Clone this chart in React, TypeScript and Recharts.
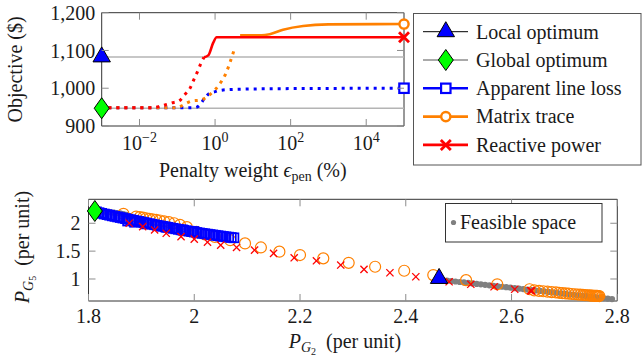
import React from "react";
import {
  ComposedChart,
  Line,
  XAxis,
  YAxis,
  ReferenceArea,
  Legend,
  ScatterChart,
  Scatter,
} from "recharts";

const FONT = "Liberation Serif, DejaVu Serif, serif";
const TEXT = "#1a1a1a";
const TICK = "#8c8c8c";
const FRAME = "#333";
const BLUE = "#0000ff";
const ORANGE = "#ff8000";
const RED = "#ff0000";
const GREEN = "#00ff00";
const GRAY = "#808080";

// ---- top panel: objective vs penalty weight (log x) ----
const penaltyTicks = [0.01, 1, 100, 10000];
const objectiveTicks = [900, 1000, 1100, 1200];

const localOptimum: [number, number][] = [[0.001, 1083], [100000, 1083]];
const globalOptimum: [number, number][] = [[0.001, 947], [100000, 947]];

const lineLoss: [number, number][] = [
  [0.0015, 948], [0.1, 948], [0.3, 949], [0.37, 953], [0.5, 970], [0.7, 986],
  [1.0, 991], [1.3, 994], [3, 997], [100, 999], [100000, 1000],
];
const traceDotted: [number, number][] = [
  [0.0015, 948], [0.1, 948], [0.145, 956], [0.24, 966], [0.42, 969], [0.7, 982],
  [1.45, 1017], [1.95, 1040], [2.4, 1064], [3.4, 1110],
];
const traceSolid: [number, number][] = [
  [4.6, 1140], [17, 1140], [28, 1143], [63, 1155], [214, 1165], [1000, 1169], [100000, 1170],
];
const reactiveDotted: [number, number][] = [
  [0.0015, 948], [0.02, 948], [0.035, 952], [0.07, 961], [0.11, 966], [0.155, 982],
  [0.22, 1001], [0.275, 1023], [0.35, 1046], [0.43, 1068], [0.51, 1082],
];
const reactiveSolid: [number, number][] = [
  [0.51, 1082], [0.66, 1087], [0.89, 1120], [1.1, 1135], [100000, 1135],
];

// ---- bottom panel: P_G2 vs P_G5 ----
const pg2Ticks = [1.8, 2, 2.2, 2.4, 2.6, 2.8];
const pg5Ticks = [1, 1.5, 2];

const feasible: [number, number][] = [
  [1.812, 2.225], [1.818, 2.22], [1.824, 2.214], [1.83, 2.207], [1.836, 2.2], [1.842, 2.196],
  [1.848, 2.19], [1.854, 2.184], [1.86, 2.176], [1.866, 2.166], [1.872, 2.15], [1.878, 2.13],
  [2.47, 0.98], [2.478, 0.972], [2.486, 0.963], [2.494, 0.955], [2.502, 0.946], [2.51, 0.938],
  [2.518, 0.929], [2.526, 0.921], [2.534, 0.912], [2.542, 0.904], [2.55, 0.895], [2.558, 0.887],
  [2.566, 0.878], [2.574, 0.87], [2.582, 0.861], [2.59, 0.853], [2.598, 0.844], [2.606, 0.836],
  [2.614, 0.827], [2.622, 0.819], [2.63, 0.81], [2.638, 0.802], [2.646, 0.793], [2.654, 0.785],
  [2.662, 0.776], [2.67, 0.768], [2.678, 0.759], [2.686, 0.751], [2.694, 0.742], [2.702, 0.734],
  [2.71, 0.725], [2.718, 0.717], [2.726, 0.708], [2.734, 0.7], [2.742, 0.691], [2.75, 0.683],
  [2.758, 0.674], [2.766, 0.666], [2.774, 0.657], [2.782, 0.649], [2.79, 0.64],
];

const lineLossPoints: [number, number][] = [
  [1.815, 2.205], [1.82, 2.19], [1.825, 2.178], [1.83, 2.166], [1.835, 2.155], [1.84, 2.144],
  [1.845, 2.133], [1.85, 2.123], [1.855, 2.113], [1.86, 2.103], [1.865, 2.093], [1.87, 2.083],
  [1.875, 2.073], [1.88, 2.063], [1.885, 2.053], [1.89, 2.043], [1.895, 2.033], [1.9, 2.023],
  [1.905, 2.013], [1.91, 2.003], [1.915, 1.993], [1.92, 1.983], [1.925, 1.973], [1.93, 1.963],
  [1.935, 1.954], [1.94, 1.945], [1.945, 1.936], [1.95, 1.927], [1.955, 1.918], [1.96, 1.909],
  [1.965, 1.9], [1.97, 1.891], [1.975, 1.882], [1.98, 1.874], [1.985, 1.866], [1.99, 1.858],
  [1.995, 1.85], [2.0, 1.842], [2.005, 1.834], [2.01, 1.826], [2.015, 1.819], [2.02, 1.812],
  [2.025, 1.805], [2.03, 1.798], [2.035, 1.791], [2.04, 1.784], [2.045, 1.777], [2.05, 1.77],
  [2.055, 1.763], [2.06, 1.757], [2.065, 1.751], [2.07, 1.745], [2.075, 1.739],
  [1.874, 2.04], [1.887, 2.018], [1.909, 1.988], [1.947, 1.929], [1.978, 1.88], [1.999, 1.852],
];

const tracePoints: [number, number][] = [
  [1.866, 2.17], [1.89, 2.12], [1.897, 2.11], [1.903, 2.1], [1.909, 2.09], [1.915, 2.08],
  [1.921, 2.07], [1.928, 2.06], [1.935, 2.05], [1.943, 2.035], [1.952, 2.02], [1.962, 2.0],
  [1.973, 1.97], [1.986, 1.93], [2.004, 1.845], [2.02, 1.8], [2.039, 1.755], [2.068, 1.696],
  [2.096, 1.638], [2.126, 1.566], [2.161, 1.49], [2.2, 1.43], [2.244, 1.37],
  [2.292, 1.29], [2.342, 1.22], [2.397, 1.148], [2.452, 1.07], [2.514, 0.98], [2.573, 0.905],
  [2.634, 0.816], [2.643, 0.795], [2.652, 0.787], [2.66, 0.78], [2.668, 0.772], [2.676, 0.765],
  [2.684, 0.758], [2.69, 0.752], [2.696, 0.746], [2.702, 0.741], [2.708, 0.736], [2.714, 0.731],
  [2.72, 0.726], [2.725, 0.722], [2.73, 0.718], [2.735, 0.714], [2.739, 0.711], [2.743, 0.708],
  [2.747, 0.705], [2.75, 0.703], [2.753, 0.701], [2.756, 0.699], [2.758, 0.698], [2.76, 0.697],
  [2.762, 0.696], [2.764, 0.695], [2.766, 0.694],
];

const reactivePoints: [number, number][] = [
  [1.877, 2.0], [1.9025, 1.94], [1.925, 1.88], [1.947, 1.82], [1.975, 1.76], [2.0, 1.715],
  [2.025, 1.66], [2.05, 1.607], [2.08, 1.566], [2.114, 1.518], [2.15, 1.459], [2.189, 1.38],
  [2.231, 1.327], [2.277, 1.25], [2.321, 1.173], [2.37, 1.112], [2.419, 1.04], [2.482, 0.95],
  [2.523, 0.905], [2.567, 0.86], [2.606, 0.816], [2.636, 0.79], [2.638, 0.787],
];

const globalPoint: [number, number][] = [[1.812, 2.22]];
const localPoint: [number, number][] = [[2.463, 1.01]];

const topLegendLabels = ["Local optimum", "Global optimum", "Apparent line loss", "Matrix trace", "Reactive power"];
const bottomLegendLabels = ["Feasible space"];

const pts = (a: [number, number][]) => a.map(([x, y]) => ({ x, y }));

// plot rectangles (layout only)
const T = { left: 101.7, right: 404, top: 12.7, bottom: 126 };
const B = { left: 88.5, right: 617.3, top: 9.3, bottom: 111 };

const txt = { fontFamily: FONT, fontSize: 20, fill: TEXT } as const;

// ---- markers ----
const Triangle = ({ cx, cy }: any) => (
  <polygon
    points={`${cx},${cy - 10} ${cx + 8.7},${cy + 5} ${cx - 8.7},${cy + 5}`}
    fill={BLUE}
    stroke="#000"
    strokeWidth={1}
  />
);
const Diamond = ({ cx, cy }: any) => (
  <polygon
    points={`${cx},${cy - 10.5} ${cx + 7.5},${cy} ${cx},${cy + 10.5} ${cx - 7.5},${cy}`}
    fill={GREEN}
    stroke="#000"
    strokeWidth={1}
  />
);
const BigSquare = ({ cx, cy }: any) => (
  <rect x={cx - 4.7} y={cy - 4.7} width={9.4} height={9.4} fill="#fff" stroke={BLUE} strokeWidth={2.2} />
);
const BigCircle = ({ cx, cy }: any) => (
  <circle cx={cx} cy={cy} r={4.6} fill="#fff" stroke={ORANGE} strokeWidth={2.4} />
);
const BigCross = ({ cx, cy }: any) => (
  <g stroke={RED} strokeWidth={2.8}>
    <line x1={cx - 5} y1={cy - 5} x2={cx + 5} y2={cy + 5} />
    <line x1={cx - 5} y1={cy + 5} x2={cx + 5} y2={cy - 5} />
  </g>
);

const lastDot = (Marker: any, n: number) => (p: any) =>
  p.index === n - 1 ? <Marker key={`m${p.index}`} cx={p.cx} cy={p.cy} /> : <g key={`m${p.index}`} />;
const firstDot = (Marker: any) => (p: any) =>
  p.index === 0 ? <Marker key={`m${p.index}`} cx={p.cx} cy={p.cy} /> : <g key={`m${p.index}`} />;

const SmallSquare = ({ cx, cy }: any) => (
  <rect x={cx - 4.5} y={cy - 4.5} width={9} height={9} fill="none" stroke={BLUE} strokeWidth={1.7} />
);
const SmallCircle = ({ cx, cy }: any) => (
  <circle cx={cx} cy={cy} r={5.5} fill="none" stroke={ORANGE} strokeWidth={1.2} />
);
const SmallCross = ({ cx, cy }: any) => (
  <g stroke={RED} strokeWidth={1.3}>
    <line x1={cx - 3.6} y1={cy - 3.6} x2={cx + 3.6} y2={cy + 3.6} />
    <line x1={cx - 3.6} y1={cy + 3.6} x2={cx + 3.6} y2={cy - 3.6} />
  </g>
);
const GrayDot = ({ cx, cy }: any) => <circle cx={cx} cy={cy} r={3.1} fill={GRAY} />;

// ---- ticks ----
const PenaltyTick = ({ x, payload }: any) => {
  const exp = Math.round(Math.log10(payload.value));
  return (
    <g>
      <line x1={x} x2={x} y1={T.bottom} y2={T.bottom - 7} stroke={TICK} />
      <line x1={x} x2={x} y1={T.top} y2={T.top + 7} stroke={TICK} />
      <text x={x} y={T.bottom + 24} textAnchor="middle" style={txt}>
        10
        <tspan dy={-8} style={{ fontSize: 14 }}>
          {exp < 0 ? `\u2212${-exp}` : `${exp}`}
        </tspan>
      </text>
    </g>
  );
};

const ObjectiveTick = ({ y, payload }: any) => (
  <g>
    <line x1={T.left} x2={T.left + 7} y1={y} y2={y} stroke={TICK} />
    <line x1={T.right} x2={T.right - 7} y1={y} y2={y} stroke={TICK} />
    <text x={T.left - 6.5} y={y} dy="0.36em" textAnchor="end" style={txt}>
      {payload.value.toLocaleString("en-US")}
    </text>
  </g>
);

const Pg2Tick = ({ x, payload }: any) => (
  <g>
    <line x1={x} x2={x} y1={B.bottom} y2={B.bottom - 7} stroke={TICK} />
    <line x1={x} x2={x} y1={B.top} y2={B.top + 7} stroke={TICK} />
    <text x={x} y={B.bottom + 22} textAnchor="middle" style={txt}>
      {payload.value}
    </text>
  </g>
);

const Pg5Tick = ({ y, payload }: any) => (
  <g>
    <line x1={B.left} x2={B.left + 7} y1={y} y2={y} stroke={TICK} />
    <line x1={B.right} x2={B.right - 7} y1={y} y2={y} stroke={TICK} />
    <text x={B.left - 8} y={y} dy="0.36em" textAnchor="end" style={txt}>
      {payload.value}
    </text>
  </g>
);

// ---- axis titles ----
const PenaltyTitle = () => (
  <text x={(T.left + T.right) / 2} y={177} textAnchor="middle" style={txt}>
    Penalty weight{" "}
    <tspan style={{ fontStyle: "italic" }}>{"\u03f5"}</tspan>
    <tspan dy={4} style={{ fontSize: 14 }}>pen</tspan>
    <tspan dy={-4}> (%)</tspan>
  </text>
);
const ObjectiveTitle = () => (
  <text
    x={22}
    y={(T.top + T.bottom) / 2}
    transform={`rotate(-90, 22, ${(T.top + T.bottom) / 2})`}
    textAnchor="middle"
    style={txt}
  >
    Objective ($)
  </text>
);
const Pg2Title = () => (
  <text x={(B.left + B.right) / 2 - 8} y={158} textAnchor="middle" style={txt}>
    <tspan style={{ fontStyle: "italic" }}>P</tspan>
    <tspan dy={4} style={{ fontSize: 14, fontStyle: "italic" }}>G</tspan>
    <tspan dy={3} style={{ fontSize: 10 }}>2</tspan>
    <tspan dy={-7}>{"\u00a0\u00a0(per unit)"}</tspan>
  </text>
);
const Pg5Title = () => {
  const cy = 57;
  return (
    <text x={29} y={cy} transform={`rotate(-90, 29, ${cy})`} textAnchor="middle" style={txt}>
      <tspan style={{ fontStyle: "italic" }}>P</tspan>
      <tspan dy={4} style={{ fontSize: 14, fontStyle: "italic" }}>G</tspan>
      <tspan dy={3} style={{ fontSize: 10 }}>5</tspan>
      <tspan dy={-7}>{"\u00a0\u00a0(per unit)"}</tspan>
    </text>
  );
};

// ---- legends ----
const topLegendMarkers = [
  { line: "#000", lw: 1, Marker: Triangle },
  { line: "#555", lw: 1, Marker: Diamond },
  { line: BLUE, lw: 2.6, Marker: BigSquare },
  { line: ORANGE, lw: 2.6, Marker: BigCircle },
  { line: RED, lw: 2.6, Marker: BigCross },
];

const TopLegend = () => (
  <svg width={229} height={153} style={{ display: "block" }}>
    <rect x={0.5} y={0.5} width={227.5} height={151.5} fill="#fff" stroke="#555" strokeWidth={1} />
    {topLegendLabels.map((label, i) => {
      const cy = 18.7 + i * 28.3;
      const { line, lw, Marker } = topLegendMarkers[i];
      return (
        <g key={label}>
          <line x1={10} x2={55} y1={cy} y2={cy} stroke={line} strokeWidth={lw} />
          <Marker cx={32.8} cy={cy} />
          <text x={63} y={cy} dy="0.34em" style={txt}>
            {label}
          </text>
        </g>
      );
    })}
  </svg>
);

const BottomLegend = () => (
  <svg width={158} height={40} style={{ display: "block" }}>
    <rect x={0.5} y={0.5} width={156.5} height={38.5} fill="#fff" stroke="#333" strokeWidth={1} />
    <circle cx={8.5} cy={19.5} r={2.6} fill={GRAY} />
    <text x={15} y={19.5} dy="0.34em" style={txt}>
      {bottomLegendLabels[0]}
    </text>
  </svg>
);

export default function App() {
  return (
    <div style={{ position: "absolute", left: 0, top: 0, width: 642, height: 362, background: "#fff", fontFamily: FONT }}>
      <div style={{ position: "absolute", left: 0, top: 0 }}>
        <ComposedChart width={642} height={190} margin={{ top: T.top, right: 642 - T.right, left: 0, bottom: 0 }}>
          <XAxis
            dataKey="x"
            type="number"
            scale="log"
            domain={[0.001, 100000]}
            ticks={penaltyTicks}
            interval={0}
            height={190 - T.bottom}
            axisLine={false}
            tickLine={false}
            tick={<PenaltyTick />}
            label={<PenaltyTitle />}
          />
          <YAxis
            type="number"
            domain={[900, 1200]}
            ticks={objectiveTicks}
            interval={0}
            width={T.left}
            axisLine={false}
            tickLine={false}
            tick={<ObjectiveTick />}
            label={<ObjectiveTitle />}
          />
          <ReferenceArea x1={0.001} x2={100000} y1={900} y2={1200} fill="none" fillOpacity={0} stroke={FRAME} strokeWidth={1} />
          <Line data={pts(localOptimum)} dataKey="y" stroke="#b4b4b4" strokeWidth={1.5} dot={firstDot(Triangle)} isAnimationActive={false} />
          <Line data={pts(globalOptimum)} dataKey="y" stroke="#b4b4b4" strokeWidth={1.5} dot={firstDot(Diamond)} isAnimationActive={false} />
          <Line
            data={pts(lineLoss)}
            dataKey="y"
            type="monotone"
            stroke={BLUE}
            strokeWidth={3}
            strokeDasharray="3 5"
            dot={lastDot(BigSquare, lineLoss.length)}
            isAnimationActive={false}
          />
          <Line data={pts(traceDotted)} dataKey="y" type="monotone" stroke={ORANGE} strokeWidth={3} strokeDasharray="3 5" dot={false} isAnimationActive={false} />
          <Line
            data={pts(traceSolid)}
            dataKey="y"
            type="monotone"
            stroke={ORANGE}
            strokeWidth={2.6}
            dot={lastDot(BigCircle, traceSolid.length)}
            isAnimationActive={false}
          />
          <Line data={pts(reactiveDotted)} dataKey="y" type="monotone" stroke={RED} strokeWidth={3} strokeDasharray="3 5" dot={false} isAnimationActive={false} />
          <Line
            data={pts(reactiveSolid)}
            dataKey="y"
            type="monotone"
            stroke={RED}
            strokeWidth={2.6}
            dot={lastDot(BigCross, reactiveSolid.length)}
            isAnimationActive={false}
          />
          <Legend
            layout="horizontal"
            verticalAlign="middle"
            align="center"
            content={<TopLegend />}
            wrapperStyle={{ left: 413, top: 13, width: 229, height: 153 }}
          />
        </ComposedChart>
      </div>
      <div style={{ position: "absolute", left: 0, top: 190 }}>
        <ScatterChart width={642} height={172} margin={{ top: B.top, right: 642 - B.right, left: 0, bottom: 0 }}>
          <XAxis
            dataKey="x"
            type="number"
            domain={[1.8, 2.8]}
            ticks={pg2Ticks}
            interval={0}
            height={172 - B.bottom}
            axisLine={false}
            tickLine={false}
            tick={<Pg2Tick />}
            label={<Pg2Title />}
          />
          <YAxis
            dataKey="y"
            type="number"
            domain={[0.605, 2.43]}
            ticks={pg5Ticks}
            interval={0}
            width={B.left}
            axisLine={false}
            tickLine={false}
            tick={<Pg5Tick />}
            label={<Pg5Title />}
          />
          <ReferenceArea x1={1.8} x2={2.8} y1={0.605} y2={2.43} fill="none" fillOpacity={0} stroke={FRAME} strokeWidth={1} />
          <Scatter data={pts(feasible)} shape={<GrayDot />} isAnimationActive={false} />
          <Scatter data={pts(tracePoints)} shape={<SmallCircle />} isAnimationActive={false} />
          <Scatter data={pts(lineLossPoints)} shape={<SmallSquare />} isAnimationActive={false} />
          <Scatter data={pts(reactivePoints)} shape={<SmallCross />} isAnimationActive={false} />
          <Scatter data={pts(globalPoint)} shape={<Diamond />} isAnimationActive={false} />
          <Scatter data={pts(localPoint)} shape={<Triangle />} isAnimationActive={false} />
          <Legend
            layout="horizontal"
            verticalAlign="middle"
            align="center"
            content={<BottomLegend />}
            wrapperStyle={{ left: 445, top: 13, width: 158, height: 40 }}
          />
        </ScatterChart>
      </div>
    </div>
  );
}
